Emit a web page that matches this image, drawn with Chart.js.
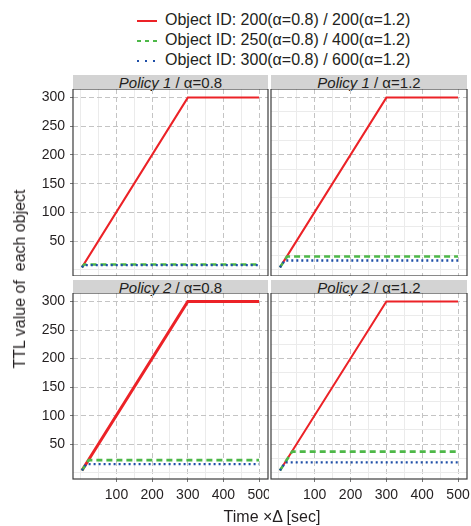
<!DOCTYPE html>
<html>
<head>
<meta charset="UTF-8">
<title>TTL value of each object</title>
<script src="https://cdn.jsdelivr.net/npm/chart.js"></script>
<style>
    body {
        margin: 0;
        background: #fff;
        font-family: "Liberation Sans", Arial, sans-serif;
        color: #231f20;
    }
    #wrap {
        position: relative;
        width: 471px;
        height: 526px;
        overflow: hidden;
    }
    .panel {
        position: absolute;
    }
    .strip {
        position: absolute;
        height: 14px;
        background: #d3d3d3;
        font-size: 15px;
        line-height: 16px;
        text-align: center;
        overflow: visible;
        white-space: nowrap;
    }
    .strip i { font-style: italic; }
    .legend {
        position: absolute;
        left: 137px;
        font-size: 16px;
        line-height: 20px;
        white-space: nowrap;
    }
    .legend svg { vertical-align: middle; margin-right: 8px; }
    .ytitle {
        position: absolute;
        left: 20px;
        top: 279px;
        transform: translate(-50%, -50%) rotate(-90deg);
        font-size: 16px;
        white-space: nowrap;
    }
    .xtitle {
        position: absolute;
        left: 272px;
        top: 517px;
        transform: translate(-50%, -50%);
        font-size: 16px;
        white-space: nowrap;
    }
</style>
</head>
<body>
<div id="wrap">
    <div class="legend" style="top:10px"><svg width="20" height="4"><line x1="0" y1="2" x2="20" y2="2" stroke="#ec2227" stroke-width="2"/></svg>Object ID: 200(α=0.8) / 200(α=1.2)</div>
    <div class="legend" style="top:30px"><svg width="20" height="4"><line x1="0" y1="2" x2="20" y2="2" stroke="#4db848" stroke-width="2" stroke-dasharray="4 4"/></svg>Object ID: 250(α=0.8) / 400(α=1.2)</div>
    <div class="legend" style="top:50px"><svg width="20" height="4"><line x1="0" y1="2" x2="20" y2="2" stroke="#1f4fa8" stroke-width="2" stroke-dasharray="2 6"/></svg>Object ID: 300(α=0.8) / 600(α=1.2)</div>

    <div class="strip" style="left:73px;top:75px;width:195px"><i>Policy 1</i> / α=0.8</div>
    <div class="strip" style="left:271px;top:75px;width:196px"><i>Policy 1</i> / α=1.2</div>
    <div class="strip" style="left:73px;top:280px;width:195px;height:13px"><i>Policy 2</i> / α=0.8</div>
    <div class="strip" style="left:271px;top:280px;width:196px;height:13px"><i>Policy 2</i> / α=1.2</div>

    <div class="panel" style="left:0;top:89px;width:269px;height:187px"><canvas id="p1"></canvas></div>
    <div class="panel" style="left:270px;top:89px;width:201px;height:187px"><canvas id="p2"></canvas></div>
    <div class="panel" style="left:0;top:293px;width:269px;height:216px"><canvas id="p3"></canvas></div>
    <div class="panel" style="left:270px;top:293px;width:201px;height:216px"><canvas id="p4"></canvas></div>

    <div class="ytitle">TTL value of &nbsp;each object</div>
    <div class="xtitle">Time ×Δ [sec]</div>
</div>
<script>
    // series per panel: P1 α=0.8, P1 α=1.2, P2 α=0.8, P2 α=1.2
    const redTime = [3, 300, 500];
    const redTTL = [4, 300, 300];
    const greenTime = [[3, 9, 500], [3, 23, 500], [3, 22, 500], [3, 37, 500]];
    const greenTTL = [[4, 9, 9], [4, 23, 23], [4, 22, 22], [4, 37, 37]];
    const blueTime = [[3, 8, 500], [3, 16, 500], [3, 15, 500], [3, 18, 500]];
    const blueTTL = [[4, 8, 8], [4, 16, 16], [4, 15, 15], [4, 18, 18]];
    const xTicks = [0, 50, 100, 150, 200, 250, 300, 350, 400, 450, 500];
    const xLabels = [100, 200, 300, 400, 500];
    const yTicks = [0, 25, 50, 75, 100, 125, 150, 175, 200, 225, 250, 275, 300];
    const yLabels = [50, 100, 150, 200, 250, 300];

    function pts(xs, ys) {
        return xs.map((x, i) => ({x: x, y: ys[i]}));
    }

    const framePlugin = {
        id: 'frame',
        afterDraw(chart) {
            const a = chart.chartArea;
            const c = chart.ctx;
            c.save();
            c.strokeStyle = '#3c3c3c';
            c.lineWidth = 1.2;
            c.strokeRect(a.left, a.top, a.right - a.left, a.bottom - a.top);
            c.restore();
        }
    };

    function makePanel(id, k, isLeft, isBottom, redWidth) {
        const ctx = document.getElementById(id).getContext('2d');
        new Chart(ctx, {
            type: 'line',
            data: {
                datasets: [
                    {data: pts(redTime, redTTL), borderColor: '#ec2227', borderWidth: redWidth, order: 3},
                    {data: pts(greenTime[k], greenTTL[k]), borderColor: '#4db848', borderWidth: 2.6, borderDash: [6, 4], order: 2},
                    {data: pts(blueTime[k], blueTTL[k]), borderColor: '#1f4fa8', borderWidth: 2.3, borderDash: [2, 3], order: 1}
                ]
            },
            options: {
                responsive: true,
                maintainAspectRatio: false,
                animation: false,
                layout: {padding: {top: 0, bottom: 0, left: isLeft ? 0 : 1, right: isLeft ? 1 : 4}},
                elements: {point: {radius: 0}, line: {tension: 0, borderCapStyle: 'butt'}},
                plugins: {legend: {display: false}, tooltip: {enabled: false}},
                scales: {
                    x: {
                        type: 'linear',
                        min: -22,
                        max: 525,
                        afterBuildTicks: s => { s.ticks = xTicks.map(v => ({value: v})); },
                        afterFit: s => {
                            s.height = isBottom ? 30 : 0;
                            s.paddingLeft = 0;
                            s.paddingRight = 0;
                        },
                        ticks: {
                            display: isBottom,
                            autoSkip: false,
                            maxRotation: 0,
                            padding: 5,
                            color: '#231f20',
                            font: {family: 'Liberation Sans', size: 14},
                            callback: v => xLabels.includes(v) ? String(v) : ''
                        },
                        grid: {
                            color: c => xLabels.includes(c.tick.value) ? '#c4c4c4' : '#ebebeb',
                            lineWidth: 1,
                            drawTicks: isBottom,
                            tickLength: 3,
                            tickColor: c => xLabels.includes(c.tick.value) ? '#777' : 'rgba(0,0,0,0)'
                        },
                        border: {display: false, dash: c => xLabels.includes(c.tick.value) ? [5, 3] : []}
                    },
                    y: {
                        type: 'linear',
                        min: -11,
                        max: 315,
                        afterBuildTicks: s => { s.ticks = yTicks.map(v => ({value: v})); },
                        afterFit: s => {
                            s.width = isLeft ? 73 : 0;
                            s.paddingTop = 0;
                            s.paddingBottom = 0;
                        },
                        ticks: {
                            display: isLeft,
                            padding: 5,
                            color: '#231f20',
                            font: {family: 'Liberation Sans', size: 14},
                            callback: v => yLabels.includes(v) ? String(v) : ''
                        },
                        grid: {
                            color: c => yLabels.includes(c.tick.value) ? '#c4c4c4' : '#ebebeb',
                            lineWidth: 1,
                            drawTicks: isLeft,
                            tickLength: 3,
                            tickColor: c => yLabels.includes(c.tick.value) ? '#777' : 'rgba(0,0,0,0)'
                        },
                        border: {display: false, dash: c => yLabels.includes(c.tick.value) ? [5, 3] : []}
                    }
                }
            },
            plugins: [framePlugin]
        });
    }

    makePanel('p1', 0, true, false, 2);
    makePanel('p2', 1, false, false, 2);
    makePanel('p3', 2, true, true, 3);
    makePanel('p4', 3, false, true, 2);
</script>
</body>
</html>
